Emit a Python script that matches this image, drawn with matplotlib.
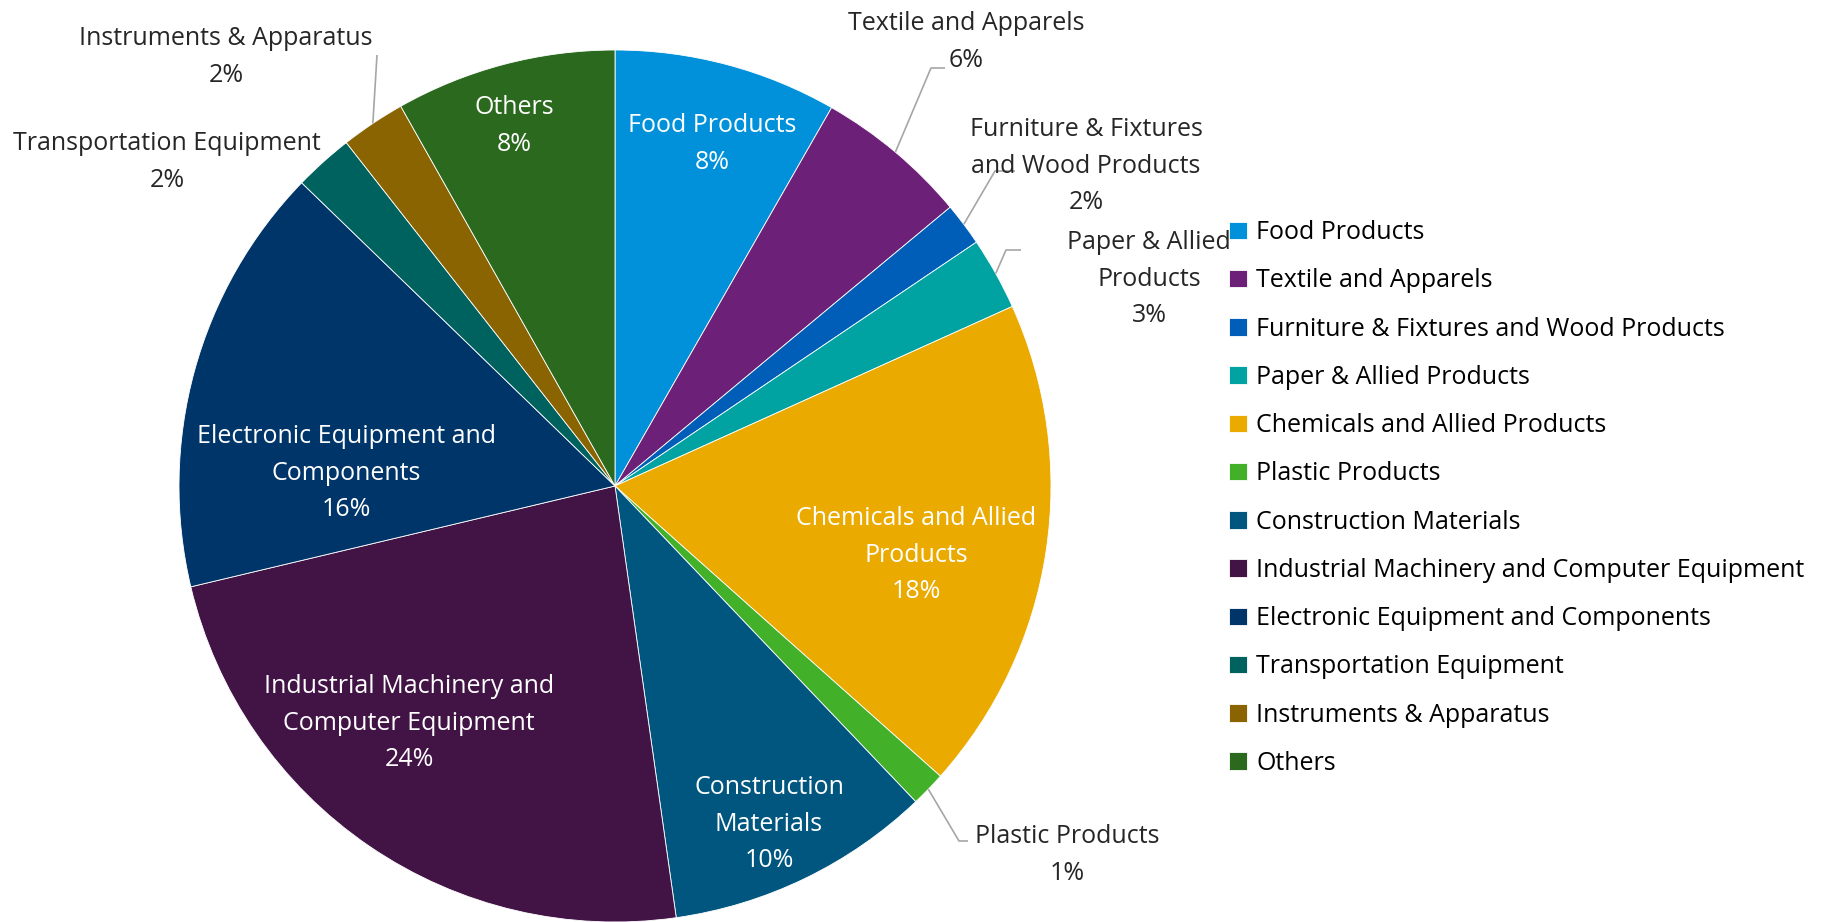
import numpy as np
import matplotlib.pyplot as plt

categories = ["Food Products", "Textile and Apparels", "Furniture & Fixtures and Wood Products",
              "Paper & Allied Products", "Chemicals and Allied Products", "Plastic Products",
              "Construction Materials", "Industrial Machinery and Computer Equipment",
              "Electronic Equipment and Components", "Transportation Equipment",
              "Instruments & Apparatus", "Others"]
shares = [8.3, 5.7, 1.6, 2.7, 18.4, 1.3, 9.9, 23.6, 16.0, 2.2, 2.4, 8.2]
slice_labels = ["Food Products", "Textile and Apparels", "Furniture & Fixtures\nand Wood Products",
                "Paper & Allied\nProducts", "Chemicals and Allied\nProducts", "Plastic Products",
                "Construction\nMaterials", "Industrial Machinery and\nComputer Equipment",
                "Electronic Equipment and\nComponents", "Transportation Equipment",
                "Instruments & Apparatus", "Others"]
colors = ["#0091DA", "#6D2077", "#005EB8", "#00A3A1", "#EAAA00", "#43B02A",
          "#00567F", "#421446", "#00356A", "#00625E", "#8A6400", "#2B6A1E"]

plt.rcParams['font.family'] = ['Open Sans', 'DejaVu Sans']
FS = 18

W, H = 1829, 922
fig = plt.figure(figsize=(W / 100, H / 100), dpi=100)
ax = fig.add_axes([179 / W, 0, 872 / W, 872 / H])
wedges, _ = ax.pie(shares, colors=colors, startangle=90, counterclock=False, radius=1,
                   wedgeprops=dict(edgecolor="white", linewidth=0.6))
ax.set_xlim(-1, 1)
ax.set_ylim(-1, 1)


def px(x, y):
    # pixel position (from top-left) -> data coords
    return ax.transData.inverted().transform((x, H - y))


# label centre (px), inside?, leader points (px)
layout = {
    0: ((712, 144), True, None),
    1: ((966, 42), False, [(931, 68), (945, 68)]),
    2: ((1086, 166), False, [(995, 171), (1015, 171)]),
    3: ((1149, 279), False, [(1006, 250), (1021, 250)]),
    4: ((916, 555), True, None),
    5: ((1067, 855), False, [(959, 841), (968, 841)]),
    6: ((769, 824), True, None),
    7: ((409, 723), True, None),
    8: ((346, 473), True, None),
    9: ((167, 162), False, None),
    10: ((226, 57), False, [(377, 55)]),
    11: ((514, 126), True, None),
}

total = sum(shares)
for i, w in enumerate(wedges):
    (cx, cy), inside, leader = layout[i]
    tx, ty = px(cx, cy)
    pct = round(shares[i] / total * 100)
    ax.text(tx, ty, f"{slice_labels[i]}\n{pct}%", ha="center", va="center",
            fontsize=FS, color="white" if inside else "#262626", linespacing=1.6)
    if leader:
        mid = np.deg2rad((w.theta1 + w.theta2) / 2)
        pts = [(np.cos(mid), np.sin(mid))] + [tuple(px(*p)) for p in leader]
        xs, ys = zip(*pts)
        ax.plot(xs, ys, color="#A6A6A6", lw=1.2, solid_capstyle="butt")

fig.legend(wedges, categories, loc="center left", bbox_to_anchor=(1229 / W, 1 - 498 / H),
           frameon=False, fontsize=FS, handlelength=0.7, handleheight=0.7,
           handletextpad=0.4, labelspacing=0.93, borderpad=0, borderaxespad=0)

fig.savefig("out.png", dpi=100)
